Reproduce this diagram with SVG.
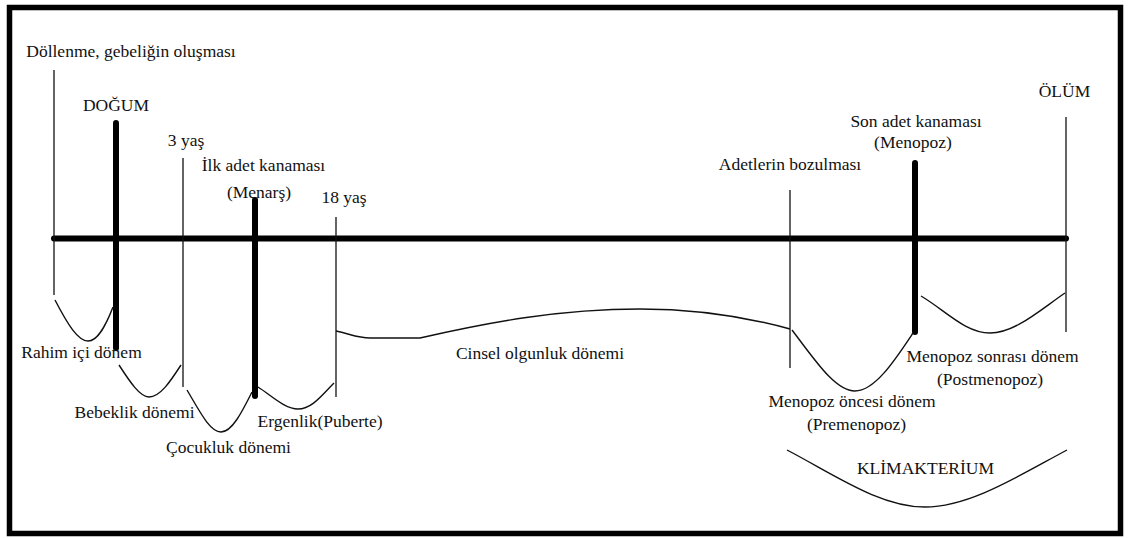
<svg xmlns="http://www.w3.org/2000/svg" width="1128" height="538" viewBox="0 0 1128 538">
<style>
text{font-family:'Liberation Serif','DejaVu Serif',serif;font-size:17.5px;fill:#111;text-anchor:middle}
.thin{stroke:#111;stroke-width:1.3;fill:none}
.thick{stroke:#000;stroke-width:6;fill:none;stroke-linecap:round}
.curve{stroke:#111;stroke-width:1.4;fill:none}
</style>
<rect x="0" y="0" width="1128" height="538" fill="#fff"/>
<rect x="9.5" y="7.5" width="1111" height="526" fill="none" stroke="#000" stroke-width="5.5"/>
<g id="connectors">
<line class="thick" x1="54" y1="238.5" x2="1066" y2="238.5"/>
<line class="thin" x1="54" y1="70" x2="54" y2="295"/>
<line class="thin" x1="183" y1="158" x2="183" y2="387"/>
<line class="thin" x1="336" y1="217" x2="336" y2="397"/>
<line class="thin" x1="790" y1="190" x2="790" y2="368"/>
<line class="thin" x1="1066" y1="117" x2="1066" y2="332"/>
<line class="thick" x1="116" y1="123" x2="116" y2="348"/>
<line class="thick" x1="255" y1="200" x2="255" y2="396"/>
<line class="thick" x1="915" y1="163" x2="915" y2="332"/>
<path class="curve" d="M55,300 C68,325 78,341 88,341 C98,341 106,325 113,307"/>
<path class="curve" d="M119,365 C130,382 140,397 149,397 C160,397 170,382 181,365"/>
<path class="curve" d="M187,390 C200,412 210,432 221,432 C232,432 242,412 252,392"/>
<path class="curve" d="M258,387 C272,396 285,409 298,409 C312,409 322,395 334,383"/>
<path class="curve" d="M336,331 C350,334 358,338 370,338 L420,338 C490,322 560,309 640,309 C700,309 750,318 790,329"/>
<path class="curve" d="M792,330 C815,360 835,391 855,391 C875,391 895,360 913,333"/>
<path class="curve" d="M921,296 C945,310 965,333 990,333 C1015,333 1040,310 1065,293"/>
<path class="curve" d="M787,450 C835,475 880,507 925,507 C970,507 1020,475 1067,450"/>
</g>
<g id="n-dollenme"><text x="131" y="57">Döllenme, gebeliğin oluşması</text></g>
<g id="n-dogum"><text x="116" y="111">DOĞUM</text></g>
<g id="n-3yas"><text x="186" y="146">3 yaş</text></g>
<g id="n-menars"><text x="263.5" y="171">İlk adet kanaması</text><text x="259" y="198">(Menarş)</text></g>
<g id="n-18yas"><text x="344" y="203">18 yaş</text></g>
<g id="n-rahim"><text x="81.5" y="358">Rahim içi dönem</text></g>
<g id="n-bebeklik"><text x="134.5" y="418">Bebeklik dönemi</text></g>
<g id="n-ergenlik"><text x="320" y="427">Ergenlik(Puberte)</text></g>
<g id="n-cocukluk"><text x="228.5" y="453">Çocukluk dönemi</text></g>
<g id="n-cinsel"><text x="540" y="359">Cinsel olgunluk dönemi</text></g>
<g id="n-adetler"><text x="790" y="170">Adetlerin bozulması</text></g>
<g id="n-menopoz"><text x="916" y="127">Son adet kanaması</text><text x="913" y="148">(Menopoz)</text></g>
<g id="n-olum"><text x="1064.5" y="97">ÖLÜM</text></g>
<g id="n-postmenopoz"><text x="992.5" y="362">Menopoz sonrası dönem</text><text x="990" y="385">(Postmenopoz)</text></g>
<g id="n-premenopoz"><text x="852" y="407">Menopoz öncesi dönem</text><text x="856.5" y="430">(Premenopoz)</text></g>
<g id="n-klimakterium"><text x="925.5" y="474">KLİMAKTERİUM</text></g>
</svg>
